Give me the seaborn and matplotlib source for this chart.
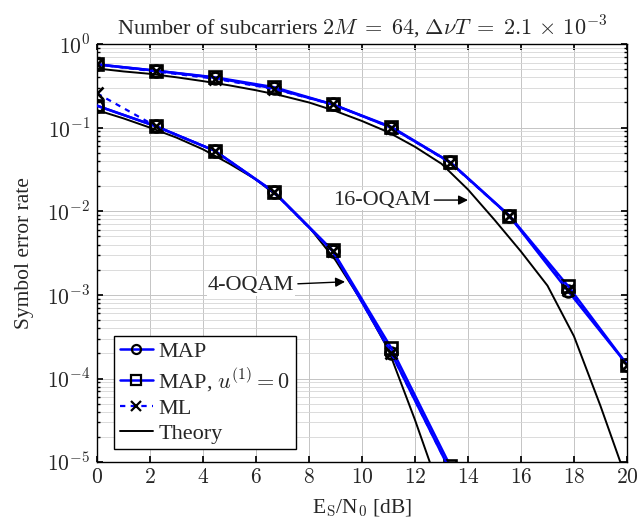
import numpy as np
import pandas as pd
import matplotlib
matplotlib.use("Agg")
import matplotlib.pyplot as plt
from matplotlib.ticker import FuncFormatter, LogLocator, NullFormatter
import seaborn as sns

# simulated points (SNR in dB)
snr = [0.0, 2.22, 4.44, 6.67, 8.89, 11.11, 13.33, 15.56, 17.78, 20.0]

# 16-OQAM
map_16 = [0.57, 0.48, 0.395, 0.295, 0.19, 0.10, 0.0385, 0.0088, 0.00111, 1.47e-4]
mapu_16 = [0.57, 0.48, 0.40, 0.305, 0.19, 0.102, 0.0385, 0.0089, 0.00127, 1.47e-4]
ml_16 = [0.57, 0.47, 0.385, 0.29, 0.19, 0.10, 0.038, 0.0088, 0.00115, 1.47e-4]

# 4-OQAM
snr_4 = [0.0, 2.22, 4.44, 6.67, 8.89, 11.11, 13.33]
map_4 = [0.183, 0.104, 0.053, 0.017, 0.00334, 2.0e-4, 7.9e-6]
mapu_4 = [0.183, 0.104, 0.053, 0.0172, 0.0034, 2.3e-4, 9.0e-6]
ml_4 = [0.257, 0.104, 0.053, 0.017, 0.00334, 2.0e-4, 7.9e-6]

# theory curves
th_snr_16 = [0, 1, 2, 3, 4, 5, 6, 7, 8, 9, 10, 11, 12, 13, 14, 15, 16, 17, 18, 19, 20]
th_16 = [0.51, 0.47, 0.44, 0.40, 0.36, 0.32, 0.28, 0.24, 0.20, 0.158, 0.12, 0.088,
         0.059, 0.037, 0.0182, 0.0079, 0.0033, 0.00129, 3.2e-4, 4.7e-5, 6e-6]
th_snr_4 = [0, 1, 2, 3, 4, 5, 6, 7, 8, 9, 10, 11, 12, 13]
th_4 = [0.162, 0.129, 0.100, 0.076, 0.055, 0.037, 0.024, 0.0135, 0.0065, 0.0026,
        8.3e-4, 2.2e-4, 3.2e-5, 4.0e-6]

sns.set_theme(style="ticks")
plt.rcParams["font.family"] = ["Liberation Serif", "DejaVu Serif"]
plt.rcParams["mathtext.fontset"] = "cm"

fig = plt.figure(figsize=(6.39, 5.24), dpi=100)
ax = fig.add_axes([0.1518, 0.118, 0.8294, 0.798])

blue = "#0000ff"
mk = dict(markerfacecolor="none", markeredgecolor="black", markeredgewidth=1.9, markersize=8.5)

# theory first (underneath)
sns.lineplot(x=th_snr_16, y=th_16, ax=ax, color="black", lw=1.4, label="Theory", zorder=2, sort=False)
sns.lineplot(x=th_snr_4, y=th_4, ax=ax, color="black", lw=1.4, zorder=2, sort=False)

sns.lineplot(x=snr, y=map_16, ax=ax, color=blue, lw=1.8, marker="o", label="MAP", zorder=3, sort=False, **mk)
sns.lineplot(x=snr_4, y=map_4, ax=ax, color=blue, lw=1.8, marker="o", zorder=3, sort=False, **mk)
sns.lineplot(x=snr, y=mapu_16, ax=ax, color=blue, lw=1.8, marker="s", label=r"MAP, $u^{(1)}=0$", zorder=3, sort=False, **mk)
sns.lineplot(x=snr_4, y=mapu_4, ax=ax, color=blue, lw=1.8, marker="s", zorder=3, sort=False, **mk)
sns.lineplot(x=snr, y=ml_16, ax=ax, color=blue, lw=1.6, marker="x", label="ML", zorder=3, sort=False,
             linestyle=(0, (2.4, 2.4)), **mk)
sns.lineplot(x=snr_4, y=ml_4, ax=ax, color=blue, lw=1.6, marker="x", zorder=3, sort=False,
             linestyle=(0, (2.4, 2.4)), **mk)

ax.set_yscale("log")
ax.set_xlim(0, 20)
ax.set_ylim(1e-5, 1)
ax.set_xticks(range(0, 21, 2))
ax.xaxis.set_major_formatter(FuncFormatter(lambda v, p: r"$%d$" % v))
ax.yaxis.set_major_locator(LogLocator(base=10, numticks=10))
ax.yaxis.set_minor_locator(LogLocator(base=10, subs=np.arange(2, 10), numticks=20))
ax.yaxis.set_major_formatter(FuncFormatter(lambda v, p: r"$10^{%d}$" % round(np.log10(v))))
ax.yaxis.set_minor_formatter(NullFormatter())

ax.grid(which="major", color="#c4c4c4", lw=0.7)
ax.grid(which="minor", axis="y", color="#d6d6d6", lw=0.6)
ax.set_axisbelow(True)
ax.tick_params(which="both", direction="in", top=True, right=True, labelsize=15.5, color="black", pad=5)
ax.tick_params(which="major", length=4)
ax.tick_params(which="minor", length=2.5)
for s in ax.spines.values():
    s.set_color("black")
    s.set_linewidth(1.0)

ax.set_xlabel(r"E$_\mathrm{S}$/N$_0$ [dB]", fontsize=15.5, labelpad=7)
ax.set_ylabel("Symbol error rate", fontsize=15.5, labelpad=9)
ax.set_title(r"Number of subcarriers $2M\;=\;64$, $\Delta\nu T\;=\;2.1\,\times\,10^{-3}$", fontsize=16, pad=7)

arrow = dict(arrowstyle="-|>", color="black", lw=1.0, mutation_scale=14, shrinkA=2, shrinkB=0)
ax.annotate("16-OQAM", xy=(14.0, 10**-1.866), xytext=(12.6, 10**-1.866), ha="right", va="center",
            fontsize=16, bbox=dict(facecolor="white", edgecolor="none", pad=0.5), arrowprops=arrow)
ax.annotate("4-OQAM", xy=(9.36, 10**-2.843), xytext=(7.45, 10**-2.891), ha="right", va="center",
            fontsize=16, bbox=dict(facecolor="white", edgecolor="none", pad=0.5), arrowprops=arrow)

handles, labels = ax.get_legend_handles_labels()
order = [labels.index(l) for l in ["MAP", r"MAP, $u^{(1)}=0$", "ML", "Theory"]]
leg = ax.legend([handles[i] for i in order], [labels[i] for i in order], loc="lower left",
                bbox_to_anchor=(0.032, 0.031), borderaxespad=0, fontsize=16, fancybox=False,
                edgecolor="black", framealpha=1, handlelength=1.5, handletextpad=0.25,
                labelspacing=0.2, borderpad=0.25)
leg.get_frame().set_linewidth(1.0)
for h in leg.legend_handles:
    h.set_markersize(6.5)
    h.set_markeredgewidth(1.6)

fig.savefig("out.png", dpi=100)
